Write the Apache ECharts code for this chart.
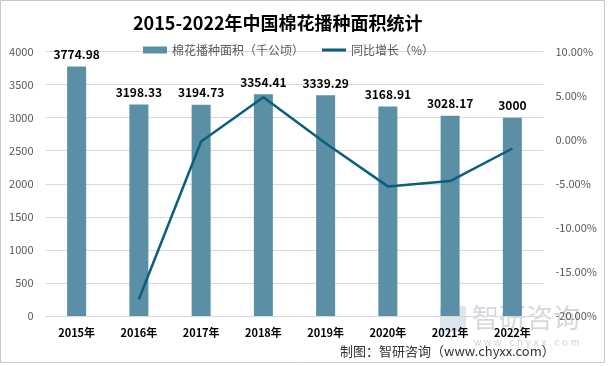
<!DOCTYPE html>
<html><head><meta charset="utf-8">
<script src="https://cdn.jsdelivr.net/npm/echarts@6/dist/echarts.min.js"></script>
<style>html,body{margin:0;padding:0;background:#fff}#c{width:608px;height:366px}</style>
</head><body><div id="c"></div>
<script>
const categories = ['2015年','2016年','2017年','2018年','2019年','2020年','2021年','2022年'];
const areaValues = [3774.98, 3198.33, 3194.73, 3354.41, 3339.29, 3168.91, 3028.17, 3000];
const growthValues = [null, -18.1, -0.2, 4.8, -0.4, -5.3, -4.7, -1.0];
const leftTicks = {min: 0, max: 4000, interval: 500};
const rightTicks = {min: -20, max: 10, interval: 5};

const chart = echarts.init(document.getElementById('c'), null, {renderer: 'canvas'});
const font = '"Microsoft YaHei","Noto Sans CJK SC",sans-serif';
chart.setOption({
  animation: false,
  textStyle: {fontFamily: font},
  title: {
    text: '2015-2022年中国棉花播种面积统计',
    left: 128, top: 9,
    textStyle: {fontSize: 18, fontWeight: 'bold', color: '#000', fontFamily: font}
  },
  legend: {
    top: 39, left: 138, itemGap: 18, itemWidth: 24, itemHeight: 7,
    textStyle: {fontSize: 12, color: '#595959', fontFamily: font},
    data: [{name: '棉花播种面积（千公顷）', icon: 'rect'},
           {name: '同比增长（%）', icon: 'path://M0,0H24V3H0Z', itemStyle: {color: '#0b5f7e'}}]
  },
  grid: {left: 45.5, right: 64.5, top: 51.5, bottom: 50},
  xAxis: {
    type: 'category', data: categories,
    axisLine: {lineStyle: {color: '#d9d9d9'}},
    axisTick: {show: false},
    axisLabel: {fontSize: 11, fontWeight: 'bold', color: '#000', margin: 11, fontFamily: font}
  },
  yAxis: [{
    type: 'value', min: leftTicks.min, max: leftTicks.max, interval: leftTicks.interval,
    axisLine: {show: false}, axisTick: {show: false},
    splitLine: {lineStyle: {color: '#d9d9d9'}},
    axisLabel: {fontSize: 11, color: '#595959', margin: 12, fontFamily: font, formatter: v => String(v)}
  }, {
    type: 'value', min: rightTicks.min, max: rightTicks.max, interval: rightTicks.interval,
    axisLine: {show: false}, axisTick: {show: false}, splitLine: {show: false},
    axisLabel: {fontSize: 11, color: '#595959', margin: 12, fontFamily: font,
      formatter: v => v.toFixed(2) + '%'}
  }],
  series: [{
    name: '棉花播种面积（千公顷）', type: 'bar', data: areaValues, barWidth: 19,
    itemStyle: {color: '#5b8fa6'},
    label: {show: true, position: 'top', distance: 6, fontSize: 12, fontWeight: 'bold', color: '#000', fontFamily: font}
  }, {
    name: '同比增长（%）', type: 'line', yAxisIndex: 1, data: growthValues,
    showSymbol: false, symbol: 'none',
    lineStyle: {color: '#0b5f7e', width: 2.5},
    itemStyle: {color: '#0b5f7e'}
  }],
  graphic: [
    {type: 'rect', shape: {x: 0.5, y: 0.5, width: 604, height: 362}, style: {fill: 'none', stroke: '#c8c8c8', lineWidth: 1}, z: -1},
    {type: 'text', left: 472, top: 304, style: {text: '智研咨询', font: '27px "Noto Sans CJK SC"', fill: 'rgba(160,170,180,0.45)'}, z: 0},
    {type: 'rect', shape: {x: 440, y: 306, width: 26, height: 26, r: 3}, style: {fill: 'rgba(120,150,190,0.25)'}, z: 0},
    {type: 'text', left: 474, top: 338, style: {text: 'w w w . c h y x x . c o m', font: '10px sans-serif', fill: 'rgba(160,170,180,0.5)'}, z: 0},
    {type: 'text', left: 340, top: 345, style: {text: '制图：智研咨询（www.chyxx.com）', font: '13px "Microsoft YaHei","Noto Sans CJK SC",sans-serif', fill: '#333'}, z: 10}
  ]
});
</script></body></html>
